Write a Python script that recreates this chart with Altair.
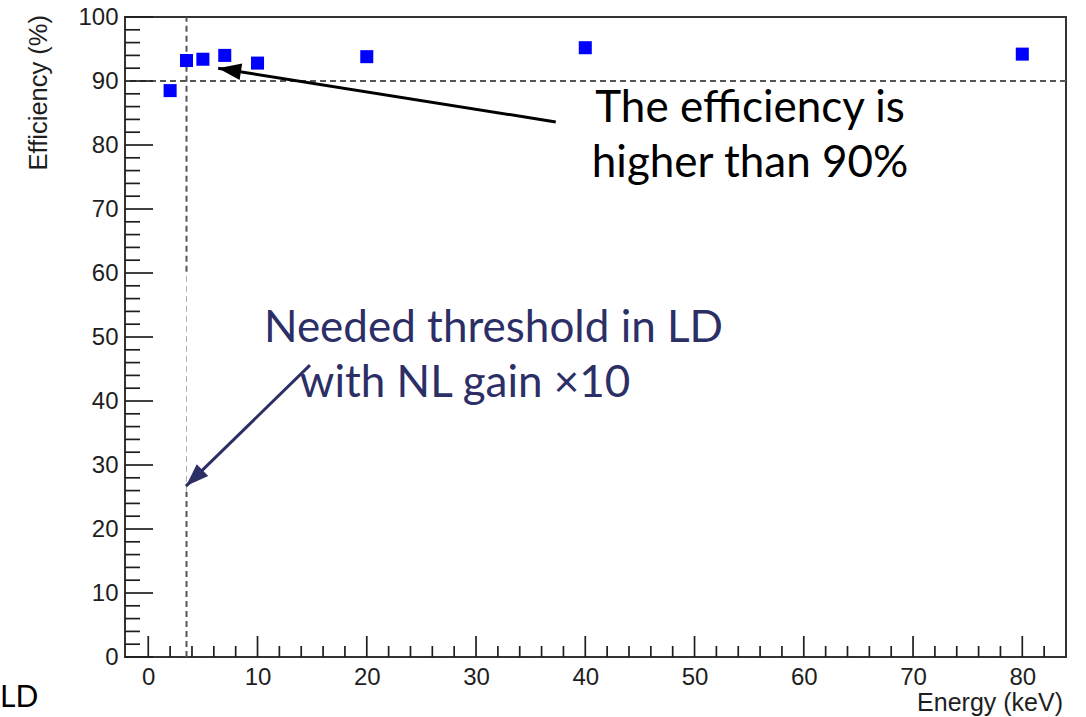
import altair as alt
import pandas as pd

# Measured detection efficiency versus photon energy
energy_kev = [2, 3.5, 5, 7, 10, 20, 40, 80]
efficiency_pct = [88.5, 93.2, 93.4, 94.0, 92.8, 93.8, 95.2, 94.2]

# Axis tick positions (ROOT-style frame: major + minor ticks drawn inward)
x_major = [0, 10, 20, 30, 40, 50, 60, 70, 80]
x_minor = [v for v in range(2, 84, 2) if v % 10]
y_major = [0, 10, 20, 30, 40, 50, 60, 70, 80, 90, 100]
y_minor = [v for v in range(2, 100, 2) if v % 10]

# Reference levels
threshold_kev = 3.5
efficiency_cut = 90

X_DOMAIN = [-2.13, 84.0]
Y_DOMAIN = [0, 100]
W, H = 941, 640

LABEL_FONT = "Liberation Sans"
NOTE_FONT = "Lato"
INK = "#1e1e1e"
NAVY = "#2c2f66"

xs = alt.Scale(domain=X_DOMAIN, nice=False, zero=False)
ys = alt.Scale(domain=Y_DOMAIN, nice=False, zero=False)

X_AX = alt.Axis(values=x_major, ticks=False, domain=False, grid=False,
                labelFontSize=24, labelFont=LABEL_FONT, labelColor=INK,
                labelPadding=8, labelFlush=False, labelOverlap=False)
Y_AX = alt.Axis(values=y_major, ticks=False, domain=False, grid=False,
                labelFontSize=24, labelFont=LABEL_FONT, labelColor=INK,
                labelPadding=7, labelFlush=False, labelOverlap=False)


def xf(field):
    return alt.X(field, type="quantitative", scale=xs, axis=X_AX, title=None)


def yf(field):
    return alt.Y(field, type="quantitative", scale=ys, axis=Y_AX, title=None)


def xd(v):
    return alt.XDatum(v, type="quantitative", scale=xs, axis=X_AX, title=None)


def yd(v):
    return alt.YDatum(v, type="quantitative", scale=ys, axis=Y_AX, title=None)


def x2d(v):
    return alt.X2Datum(v)


def y2d(v):
    return alt.Y2Datum(v)


one = pd.DataFrame({"row": [0]})
points = pd.DataFrame({"energy": energy_kev, "eff": efficiency_pct})

# Inward ticks along the left and bottom edges of the frame
y_major_ticks = alt.Chart(pd.DataFrame({"v": y_major})).mark_rule(
    color=INK, strokeWidth=1.7).encode(y=yf("v"), x=alt.value(0), x2=alt.value(28))
y_minor_ticks = alt.Chart(pd.DataFrame({"v": y_minor})).mark_rule(
    color=INK, strokeWidth=1.7).encode(y=yf("v"), x=alt.value(0), x2=alt.value(15))
x_major_ticks = alt.Chart(pd.DataFrame({"v": x_major})).mark_rule(
    color=INK, strokeWidth=1.7).encode(x=xf("v"), y=alt.value(H), y2=alt.value(H - 21))
x_minor_ticks = alt.Chart(pd.DataFrame({"v": x_minor})).mark_rule(
    color=INK, strokeWidth=1.7).encode(x=xf("v"), y=alt.value(H), y2=alt.value(H - 11))

# Dashed guides: 90 % efficiency and the energy threshold
DASH = [6, 4]
h_guide = alt.Chart(one).mark_rule(color="#555555", strokeWidth=2, strokeDash=DASH).encode(
    y=yd(efficiency_cut))
v_guide_low = alt.Chart(one).mark_rule(color="#555555", strokeWidth=2, strokeDash=DASH).encode(
    x=xd(threshold_kev), y=yd(0), y2=y2d(25.8))
v_guide_mid = alt.Chart(one).mark_rule(color="#b0b0b0", strokeWidth=1, strokeDash=DASH).encode(
    x=xd(threshold_kev), y=yd(25.8), y2=y2d(60.2))
v_guide_high = alt.Chart(one).mark_rule(color="#555555", strokeWidth=2, strokeDash=DASH).encode(
    x=xd(threshold_kev), y=yd(60.2), y2=y2d(100))

# Data points
marks = alt.Chart(points).mark_point(
    shape="square", filled=True, size=170, color="#0000ff", opacity=1).encode(
    x=xf("energy"), y=yf("eff"))

# Arrow heads: triangle with its tip at the anchor point
HEAD = "M0,0 L0.36,1 L-0.36,1 Z"


def arrow(x0, y0, x1, y1, angle, color, width):
    shaft = alt.Chart(one).mark_rule(color=color, strokeWidth=width).encode(
        x=xd(x0), y=yd(y0), x2=x2d(x1), y2=y2d(y1))
    head = alt.Chart(one).mark_point(
        shape=HEAD, size=2116, angle=angle, filled=True, color=color,
        opacity=1, strokeWidth=0).encode(x=xd(x1), y=yd(y1))
    return shaft + head


def note(text, x, y, size, color, align="center"):
    return alt.Chart(one).mark_text(
        text=text, font=NOTE_FONT, fontSize=size, color=color,
        align=align, baseline="alphabetic").encode(x=xd(x), y=yd(y))


arrow_eff = arrow(37.3, 83.6, 6.4, 92.0, 279, "#000000", 3)
arrow_thr = arrow(14.8, 45.6, 3.45, 26.7, 226, NAVY, 3)

notes = (
    note("The efficiency is", 55.08, 83.6, 44, "#000000")
    + note("higher than 90%", 55.08, 75.0, 44, "#000000")
    + note("Needed threshold in LD", 31.6, 49.2, 44, NAVY)
    + note("with NL gain \u00d710", 29.0, 40.6, 44, NAVY)
)

# Axis titles and the stray slide label
titles = (
    alt.Chart(one).mark_text(text="Energy (keV)", font=LABEL_FONT, fontSize=25,
                             color=INK, align="right", baseline="alphabetic").encode(
        x=alt.value(W - 3), y=alt.value(H + 54))
    + alt.Chart(one).mark_text(text="Efficiency (%)", font=LABEL_FONT, fontSize=25.5,
                               color=INK, align="right", baseline="middle", angle=270).encode(
        x=alt.value(-86), y=alt.value(-2))
    + alt.Chart(one).mark_text(text="LD", font=NOTE_FONT, fontSize=30,
                               color="#000000", align="left", baseline="alphabetic").encode(
        x=alt.value(-125), y=alt.value(H + 50))
)

chart = alt.layer(
    h_guide, v_guide_low, v_guide_mid, v_guide_high,
    y_major_ticks, y_minor_ticks, x_major_ticks, x_minor_ticks,
    marks, arrow_eff, arrow_thr, notes, titles,
).properties(
    width=W, height=H,
    autosize=alt.AutoSizeParams(type="none"),
    padding={"left": 125, "top": 17, "right": 20, "bottom": 60},
    background="white",
).configure_view(stroke="#333333", strokeWidth=2)

chart.save("out.html", embed_options={"renderer": "svg", "actions": False})
